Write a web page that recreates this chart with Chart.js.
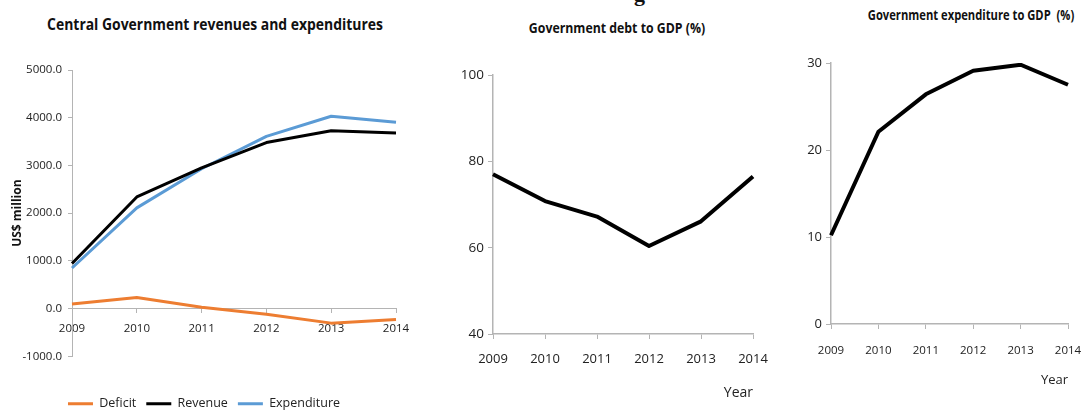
<!DOCTYPE html>
<html>
<head>
<meta charset="utf-8">
<script src="https://cdn.jsdelivr.net/npm/chart.js@4.4.1/dist/chart.umd.min.js"></script>
<style>
  html, body { margin: 0; padding: 0; background: #fff; }
  body { position: relative; width: 1082px; height: 414px; overflow: hidden; }
  canvas { position: absolute; top: 0; }
  .ttl { position: absolute; white-space: nowrap; font-family: 'Open Sans', sans-serif; font-weight: bold;
         color: #111; line-height: 1; transform-origin: center center; }
  .frag { position: absolute; left: 634px; top: -17px; font: bold 22px "Liberation Serif", serif; color: #111; line-height: 1; }
</style>
</head>
<body>
<div class="frag">g</div>
<div class="ttl" style="left:215px; top:24px; font-size:16px; transform:translate(-50%,-50%) scaleX(0.87);">Central Government revenues and expenditures</div>
<div class="ttl" style="left:617px; top:27px; font-size:15px; transform:translate(-50%,-50%) scaleX(0.82);">Government debt to GDP (%)</div>
<div class="ttl" style="left:971px; top:15px; font-size:14px; transform:translate(-50%,-50%) scaleX(0.8);">Government expenditure to GDP&nbsp;&nbsp;(%)</div>

<canvas id="c1" width="420" height="420" style="left:0px;"></canvas>
<canvas id="c2" width="340" height="414" style="left:440px;"></canvas>
<canvas id="c3" width="302" height="414" style="left:780px;"></canvas>

<script>
// Years shared by all three panels
const years = ['2009', '2010', '2011', '2012', '2013', '2014'];

// Central government fiscal balance, US$ million
const deficit     = [95, 230, 30, -120, -305, -230];
const revenue     = [945, 2340, 2950, 3480, 3725, 3680];
const expenditure = [850, 2110, 2930, 3610, 4030, 3905];

// Ratios to GDP, %
const debtToGdp        = [77.0, 70.8, 67.2, 60.4, 66.1, 76.5];
const expenditureToGdp = [10.2, 22.1, 26.4, 29.1, 29.8, 27.5];

// Value-axis ticks
const usdTicks  = [-1000, 0, 1000, 2000, 3000, 4000, 5000];
const debtTicks = [40, 60, 80, 100];
const expTicks  = [0, 10, 20, 30];

const AXIS = '#b4b4b4';
const SANS = "'Open Sans',sans-serif";

Chart.defaults.animation = false;
Chart.defaults.responsive = false;
Chart.defaults.devicePixelRatio = 1;

function fixedTicks(values) {
  return scale => { scale.ticks = values.map(v => ({ value: v })); };
}

function lineSet(label, data, color, width) {
  return {
    label, data,
    borderColor: color, backgroundColor: color,
    borderWidth: width, pointRadius: 0, tension: 0,
    borderJoinStyle: 'round', borderCapStyle: 'butt', fill: false
  };
}

/* Panel 1: revenues, expenditures and balance */
new Chart(document.getElementById('c1'), {
  type: 'line',
  data: {
    labels: years,
    datasets: [
      lineSet('Deficit', deficit, '#ED7D31', 3),
      lineSet('Revenue', revenue, '#000000', 3),
      lineSet('Expenditure', expenditure, '#5B9BD5', 3)
    ]
  },
  options: {
    layout: { padding: { top: 70, left: 12, right: 24, bottom: 0 } },
    plugins: {
      tooltip: { enabled: false },
      legend: {
        position: 'bottom',
        title: { display: true, text: '', font: { size: 1 }, padding: { top: 30, bottom: 0 } },
        labels: {
          boxWidth: 25, boxHeight: 3, padding: 10, color: '#222',
          font: { family: SANS, size: 12.5 },
          generateLabels: chart => chart.data.datasets.map((ds, i) => ({
            text: ds.label, fillStyle: ds.borderColor, strokeStyle: ds.borderColor,
            lineWidth: 0, hidden: false, datasetIndex: i, fontColor: '#222'
          }))
        }
      }
    },
    scales: {
      x: {
        position: { y: 0 },
        offset: false,
        grid: { display: true, drawOnChartArea: false, drawTicks: true, tickLength: 4, color: AXIS },
        border: { display: true, color: AXIS, width: 1 },
        ticks: { color: '#222', font: { family: SANS, size: 11.5 }, padding: 9, maxRotation: 0, autoSkip: false }
      },
      y: {
        min: -1000, max: 5000,
        afterBuildTicks: fixedTicks(usdTicks),
        afterFit: s => { s.width = 60; },
        grid: { display: true, drawOnChartArea: false, drawTicks: true, tickLength: 4, color: AXIS },
        border: { display: true, color: AXIS, width: 1 },
        ticks: { color: '#222', font: { family: SANS, size: 11.5 }, padding: 6,
                 callback: v => Number(v).toFixed(1) },
        title: { display: true, text: 'US$ million', color: '#111',
                 font: { family: SANS, size: 12, weight: 'bold' }, padding: { top: -2, bottom: 0 } }
      }
    }
  }
});

/* Shared setup for the two ratio panels */
function ratioChart(id, data, ticks, min, max, cfg) {
  return new Chart(document.getElementById(id), {
    type: 'line',
    data: { labels: years, datasets: [lineSet('', data, '#000000', 4)] },
    options: {
      layout: { padding: { top: cfg.padTop, left: 0, right: cfg.padRight, bottom: 0 } },
      plugins: { legend: { display: false }, tooltip: { enabled: false } },
      scales: {
        x: {
          offset: false,
          afterFit: s => { s.height = cfg.xHeight; s.paddingRight = 0; s.paddingLeft = 0; },
          grid: { display: true, drawOnChartArea: false, drawTicks: true, tickLength: 5, color: AXIS },
          border: { display: true, color: AXIS, width: 1.5 },
          ticks: { color: '#222', font: { family: SANS, size: cfg.xFont }, padding: cfg.xTickPad,
                   maxRotation: 0, autoSkip: false },
          title: { display: true, text: 'Year', align: 'end', color: '#222',
                   font: { family: SANS, size: cfg.yearFont }, padding: { top: 0, bottom: cfg.yearPad } }
        },
        y: {
          min, max,
          afterBuildTicks: fixedTicks(ticks),
          afterFit: s => { s.width = cfg.yWidth; },
          grid: { display: true, drawOnChartArea: false, drawTicks: true, tickLength: 5, color: AXIS },
          border: { display: true, color: AXIS, width: 1.5 },
          ticks: { color: '#222', font: { family: SANS, size: cfg.yFont }, padding: 4 }
        }
      }
    }
  });
}

/* Panel 2: government debt to GDP */
ratioChart('c2', debtToGdp, debtTicks, 40, 100,
  { yWidth: 53, padTop: 75, padRight: 27, xHeight: 80, xFont: 13, yFont: 13.5, xTickPad: 12, yearFont: 14, yearPad: 13 });

/* Panel 3: government expenditure to GDP */
ratioChart('c3', expenditureToGdp, expTicks, 0, 30,
  { yWidth: 51, padTop: 63, padRight: 14, xHeight: 90, xFont: 11.5, yFont: 13, xTickPad: 15, yearFont: 13, yearPad: 26 });
</script>
</body>
</html>
